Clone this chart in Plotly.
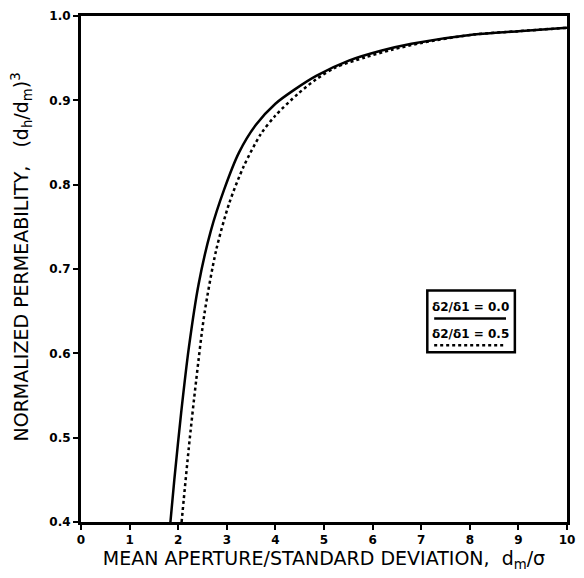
import plotly.graph_objects as go

# Data
solid_x = [1.84, 1.92, 2.06, 2.22, 2.42, 2.67, 2.95, 3.25, 3.60, 4.00, 4.40, 4.84, 5.51, 6.19, 6.80, 8.08, 9.0, 10.0]
solid_y = [0.40, 0.450, 0.529, 0.607, 0.682, 0.745, 0.795, 0.838, 0.871, 0.896, 0.913, 0.929, 0.947, 0.959, 0.967, 0.978, 0.982, 0.986]

dot_x = [2.07, 2.22, 2.37, 2.54, 2.78, 3.05, 3.35, 3.70, 4.00, 4.47, 4.84, 5.24, 5.85, 6.40, 7.0, 8.08, 9.0, 10.0]
dot_y = [0.40, 0.489, 0.568, 0.647, 0.722, 0.778, 0.822, 0.860, 0.882, 0.908, 0.925, 0.939, 0.951, 0.960, 0.968, 0.978, 0.982, 0.986]

x_ticks = [0, 1, 2, 3, 4, 5, 6, 7, 8, 9, 10]
y_ticks = [0.4, 0.5, 0.6, 0.7, 0.8, 0.9, 1.0]
y_ticklabels = ["0.4", "0.5", "0.6", "0.7", "0.8", "0.9", "1.0"]

legend_labels = ["δ2/δ1 = 0.0", "δ2/δ1 = 0.5"]
x_title = "MEAN APERTURE/STANDARD DEVIATION,  d<sub>m</sub>/σ"
y_title = "NORMALIZED PERMEABILITY,   (d<sub>h</sub>/d<sub>m</sub>)<sup>3</sup>"

FONT = "DejaVu Sans"

fig = go.Figure()
fig.add_trace(go.Scatter(x=solid_x, y=solid_y, mode="lines",
                         line=dict(color="black", width=2.5, shape="spline", smoothing=0.8),
                         showlegend=False))
fig.add_trace(go.Scatter(x=dot_x, y=dot_y, mode="lines",
                         line=dict(color="black", width=2.5, dash="dot", shape="spline", smoothing=0.8),
                         showlegend=False))

W, H = 584, 578
ml, mr, mt, mb = 81, 9, 15, 56

def px(xp):
    return (xp - ml) / (W - ml - mr)

def py(yp):
    return 1 - (yp - mt) / (H - mt - mb)

shapes = [
    # legend box
    dict(type="rect", xref="paper", yref="paper",
         x0=px(433), x1=px(522), y0=py(352), y1=py(290),
         line=dict(color="black", width=2.5), fillcolor="white"),
    # solid sample underline
    dict(type="line", xref="paper", yref="paper",
         x0=px(440), x1=px(513), y0=py(318), y1=py(318),
         line=dict(color="black", width=2.5)),
    # dotted sample underline
    dict(type="line", xref="paper", yref="paper",
         x0=px(440), x1=px(513), y0=py(345), y1=py(345),
         line=dict(color="black", width=2.5, dash="dot")),
]

annotations = [
    dict(xref="paper", yref="paper", x=px(477), y=py(307), text=legend_labels[0],
         showarrow=False, font=dict(family=FONT, size=12, color="black", weight="bold"),
         xanchor="center", yanchor="middle"),
    dict(xref="paper", yref="paper", x=px(477), y=py(334), text=legend_labels[1],
         showarrow=False, font=dict(family=FONT, size=12, color="black", weight="bold"),
         xanchor="center", yanchor="middle"),
    dict(xref="paper", yref="paper", x=px(21), y=py(256), text=y_title, textangle=-90,
         showarrow=False, font=dict(family=FONT, size=19, color="black"),
         xanchor="center", yanchor="middle"),
]

fig.update_layout(
    width=W, height=H,
    margin=dict(l=ml, r=mr, t=mt, b=mb),
    paper_bgcolor="white", plot_bgcolor="white",
    font=dict(family=FONT, color="black"),
    shapes=shapes, annotations=annotations,
    showlegend=False,
)
fig.update_xaxes(
    range=[0, 10], tickvals=x_ticks, ticktext=[str(t) for t in x_ticks],
    showgrid=False, zeroline=False, showline=True, mirror=True,
    linecolor="black", linewidth=3,
    ticks="outside", ticklen=5, tickwidth=1.5, tickcolor="black",
    tickfont=dict(family=FONT, size=12, color="black", weight="bold"),
    title=dict(text=x_title,
               font=dict(family=FONT, size=19, color="black"), standoff=5),
)
fig.update_yaxes(
    range=[0.4, 1.0], tickvals=y_ticks, ticktext=y_ticklabels,
    showgrid=False, zeroline=False, showline=True, mirror=True,
    linecolor="black", linewidth=3,
    ticks="outside", ticklen=5, tickwidth=1.5, tickcolor="black",
    tickfont=dict(family=FONT, size=12, color="black", weight="bold"),
)

fig.write_html("out.html")
